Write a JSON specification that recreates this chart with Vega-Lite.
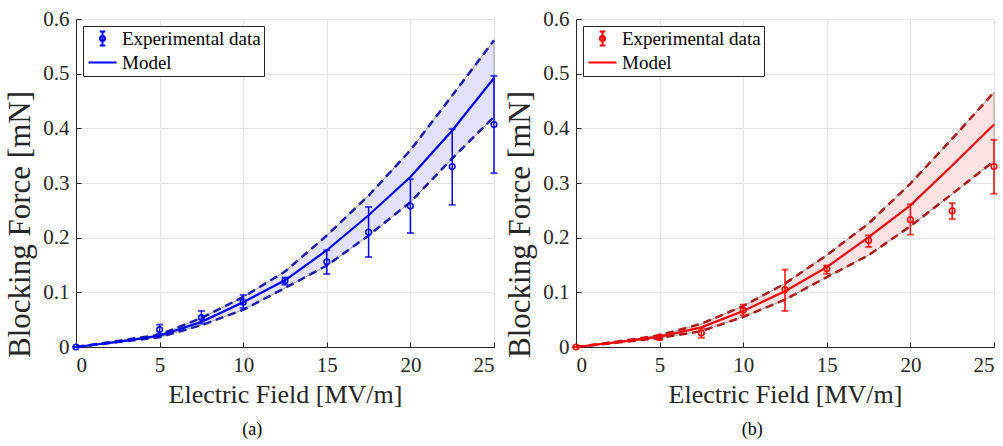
{
  "$schema": "https://vega.github.io/schema/vega-lite/v6.json",
  "background": "white",
  "padding": {"left": 4, "top": 8, "right": 4, "bottom": 4},
  "spacing": 4,
  "config": {
    "view": {"stroke": null},
    "font": "Liberation Serif",
    "axis": {
      "labelFont": "Liberation Serif",
      "titleFont": "Liberation Serif",
      "labelFontSize": 21,
      "labelColor": "#262626",
      "titleColor": "#262626",
      "titleFontWeight": "normal",
      "domainColor": "#262626",
      "tickColor": "#262626",
      "gridColor": "#e4e4e4",
      "grid": true,
      "tickSize": -5,
      "labelPadding": 12
    },
    "axisX": {"titleFontSize": 26, "titlePadding": 6},
    "axisY": {"titleFontSize": 31, "titlePadding": 6, "titleY": 205, "format": ".1~f"},
    "legend": {
      "orient": "top-left",
      "offset": 7,
      "padding": 3,
      "strokeColor": "#262626",
      "fillColor": "white",
      "labelFont": "Liberation Serif",
      "labelFontSize": 19,
      "labelColor": "#000000",
      "symbolSize": 196,
      "symbolStrokeWidth": 2,
      "symbolOffset": 7,
      "labelOffset": 10,
      "rowPadding": 3,
      "symbolOpacity": 1
    },
    "title": {"font": "Liberation Serif", "fontSize": 18, "fontWeight": "normal", "color": "#000000"}
  },
  "datasets": {
    "modelA": [
      {"E": 0, "mean": 0, "lower": 0, "upper": 0},
      {"E": 2.5, "mean": 0.0095, "lower": 0.009, "upper": 0.011},
      {"E": 5, "mean": 0.0205, "lower": 0.018, "upper": 0.0226},
      {"E": 7.5, "mean": 0.046, "lower": 0.040, "upper": 0.053},
      {"E": 10, "mean": 0.082, "lower": 0.068, "upper": 0.0915},
      {"E": 12.5, "mean": 0.122, "lower": 0.108, "upper": 0.138},
      {"E": 15, "mean": 0.177, "lower": 0.149, "upper": 0.204},
      {"E": 17.5, "mean": 0.241, "lower": 0.204, "upper": 0.277},
      {"E": 20, "mean": 0.311, "lower": 0.265, "upper": 0.36},
      {"E": 22.5, "mean": 0.396, "lower": 0.345, "upper": 0.46},
      {"E": 25, "mean": 0.492, "lower": 0.421, "upper": 0.561}
    ],
    "expA": [
      {"E": 0, "F": 0, "lo": 0, "hi": 0},
      {"E": 5, "F": 0.032, "lo": 0.024, "hi": 0.041},
      {"E": 7.5, "F": 0.054, "lo": 0.043, "hi": 0.066},
      {"E": 10, "F": 0.082, "lo": 0.071, "hi": 0.095},
      {"E": 12.5, "F": 0.121, "lo": 0.114, "hi": 0.127},
      {"E": 15, "F": 0.156, "lo": 0.1335, "hi": 0.177},
      {"E": 17.5, "F": 0.21, "lo": 0.1646, "hi": 0.256},
      {"E": 20, "F": 0.258, "lo": 0.2085, "hi": 0.307},
      {"E": 22.5, "F": 0.33, "lo": 0.26, "hi": 0.399},
      {"E": 25, "F": 0.407, "lo": 0.318, "hi": 0.496}
    ],
    "modelB": [
      {"E": 0, "mean": 0, "lower": 0, "upper": 0},
      {"E": 2.5, "mean": 0.009, "lower": 0.008, "upper": 0.010},
      {"E": 5, "mean": 0.019, "lower": 0.0165, "upper": 0.0215},
      {"E": 7.5, "mean": 0.036, "lower": 0.029, "upper": 0.0425},
      {"E": 10, "mean": 0.066, "lower": 0.055, "upper": 0.075},
      {"E": 12.5, "mean": 0.102, "lower": 0.0866, "upper": 0.116},
      {"E": 15, "mean": 0.146, "lower": 0.128, "upper": 0.168},
      {"E": 17.5, "mean": 0.201, "lower": 0.168, "upper": 0.226},
      {"E": 20, "mean": 0.259, "lower": 0.221, "upper": 0.299},
      {"E": 22.5, "mean": 0.332, "lower": 0.28, "upper": 0.381},
      {"E": 25, "mean": 0.407, "lower": 0.34, "upper": 0.466}
    ],
    "expB": [
      {"E": 0, "F": 0, "lo": 0, "hi": 0},
      {"E": 5, "F": 0.018, "lo": 0.013, "hi": 0.022},
      {"E": 7.5, "F": 0.0256, "lo": 0.017, "hi": 0.0335},
      {"E": 10, "F": 0.067, "lo": 0.058, "hi": 0.0774},
      {"E": 12.5, "F": 0.105, "lo": 0.066, "hi": 0.1415},
      {"E": 15, "F": 0.143, "lo": 0.134, "hi": 0.149},
      {"E": 17.5, "F": 0.195, "lo": 0.183, "hi": 0.204},
      {"E": 20, "F": 0.233, "lo": 0.2055, "hi": 0.261},
      {"E": 22.5, "F": 0.249, "lo": 0.234, "hi": 0.263},
      {"E": 25, "F": 0.33, "lo": 0.2805, "hi": 0.379}
    ],
    "legendRows": [
      {"s": "Experimental data"},
      {"s": "Model"}
    ]
  },
  "resolve": {"scale": {"shape": "independent"}, "legend": {"shape": "independent"}},
  "hconcat": [
    {
      "width": 418,
      "height": 328,
      "title": {"text": "(a)", "orient": "bottom", "frame": "bounds", "anchor": "middle", "offset": 14},
      "encoding": {
        "x": {"field": "E", "type": "quantitative", "title": "Electric Field [MV/m]", "scale": {"domain": [0, 25]}, "axis": {"values": [0, 5, 10, 15, 20, 25]}}
      },
      "layer": [
        {
          "data": {"name": "modelA"},
          "mark": {"type": "area", "fill": "#e2e2fc", "stroke": "#8c8c8c", "strokeWidth": 0.8},
          "encoding": {
            "y": {"field": "lower", "type": "quantitative", "title": "Blocking Force [mN]", "scale": {"domain": [0, 0.6]}, "axis": {"values": [0, 0.1, 0.2, 0.3, 0.4, 0.5, 0.6]}},
            "y2": {"field": "upper"}
          }
        },
        {
          "data": {"name": "modelA"},
          "mark": {"type": "line", "color": "#1c1ca8", "strokeWidth": 2.5, "strokeDash": [8, 5]},
          "encoding": {"y": {"field": "upper", "type": "quantitative", "title": "Blocking Force [mN]"}}
        },
        {
          "data": {"name": "modelA"},
          "mark": {"type": "line", "color": "#1c1ca8", "strokeWidth": 2.5, "strokeDash": [8, 5]},
          "encoding": {"y": {"field": "lower", "type": "quantitative", "title": "Blocking Force [mN]"}}
        },
        {
          "data": {"name": "modelA"},
          "mark": {"type": "line", "color": "#0000ff", "strokeWidth": 2.2},
          "encoding": {"y": {"field": "mean", "type": "quantitative", "title": "Blocking Force [mN]"}}
        },
        {
          "data": {"name": "expA"},
          "mark": {"type": "rule", "color": "#0000ff", "strokeWidth": 1.5},
          "encoding": {"y": {"field": "lo", "type": "quantitative", "title": "Blocking Force [mN]"}, "y2": {"field": "hi"}}
        },
        {
          "data": {"name": "expA"},
          "mark": {"type": "tick", "orient": "horizontal", "color": "#0000ff", "size": 7, "thickness": 2},
          "encoding": {"y": {"field": "lo", "type": "quantitative", "title": "Blocking Force [mN]"}}
        },
        {
          "data": {"name": "expA"},
          "mark": {"type": "tick", "orient": "horizontal", "color": "#0000ff", "size": 7, "thickness": 2},
          "encoding": {"y": {"field": "hi", "type": "quantitative", "title": "Blocking Force [mN]"}}
        },
        {
          "data": {"name": "expA"},
          "mark": {"type": "point", "shape": "circle", "filled": false, "color": "#0000ff", "size": 32, "strokeWidth": 1.5, "opacity": 1},
          "encoding": {"y": {"field": "F", "type": "quantitative", "title": "Blocking Force [mN]"}}
        },
        {
          "data": {"name": "legendRows"},
          "mark": {"type": "point", "filled": false, "color": "#0000ff", "opacity": 0},
          "encoding": {
            "x": {"value": 0},
            "y": {"value": 0},
            "shape": {
              "field": "s",
              "type": "nominal",
              "scale": {"domain": ["Experimental data", "Model"], "range": ["M0,-1V1M-0.4,-1H0.4M-0.4,1H0.4M0.36,0A0.36,0.36,0,1,1,-0.36,0A0.36,0.36,0,1,1,0.36,0", "M-2,0H2"]},
              "legend": {"title": null, "symbolStrokeColor": "#0000ff", "encode": {"symbols": {"update": {"opacity": {"value": 1}, "stroke": {"value": "#0000ff"}, "fill": {"value": "transparent"}}}}}
            }
          }
        }
      ]
    },
    {
      "width": 418,
      "height": 328,
      "title": {"text": "(b)", "orient": "bottom", "frame": "bounds", "anchor": "middle", "offset": 14},
      "encoding": {
        "x": {"field": "E", "type": "quantitative", "title": "Electric Field [MV/m]", "scale": {"domain": [0, 25]}, "axis": {"values": [0, 5, 10, 15, 20, 25]}}
      },
      "layer": [
        {
          "data": {"name": "modelB"},
          "mark": {"type": "area", "fill": "#fde2e2", "stroke": "#8c8c8c", "strokeWidth": 0.8},
          "encoding": {
            "y": {"field": "lower", "type": "quantitative", "title": "Blocking Force [mN]", "scale": {"domain": [0, 0.6]}, "axis": {"values": [0, 0.1, 0.2, 0.3, 0.4, 0.5, 0.6]}},
            "y2": {"field": "upper"}
          }
        },
        {
          "data": {"name": "modelB"},
          "mark": {"type": "line", "color": "#a81c1c", "strokeWidth": 2.5, "strokeDash": [8, 5]},
          "encoding": {"y": {"field": "upper", "type": "quantitative", "title": "Blocking Force [mN]"}}
        },
        {
          "data": {"name": "modelB"},
          "mark": {"type": "line", "color": "#a81c1c", "strokeWidth": 2.5, "strokeDash": [8, 5]},
          "encoding": {"y": {"field": "lower", "type": "quantitative", "title": "Blocking Force [mN]"}}
        },
        {
          "data": {"name": "modelB"},
          "mark": {"type": "line", "color": "#ff0000", "strokeWidth": 2.2},
          "encoding": {"y": {"field": "mean", "type": "quantitative", "title": "Blocking Force [mN]"}}
        },
        {
          "data": {"name": "expB"},
          "mark": {"type": "rule", "color": "#ff0000", "strokeWidth": 1.5},
          "encoding": {"y": {"field": "lo", "type": "quantitative", "title": "Blocking Force [mN]"}, "y2": {"field": "hi"}}
        },
        {
          "data": {"name": "expB"},
          "mark": {"type": "tick", "orient": "horizontal", "color": "#ff0000", "size": 7, "thickness": 2},
          "encoding": {"y": {"field": "lo", "type": "quantitative", "title": "Blocking Force [mN]"}}
        },
        {
          "data": {"name": "expB"},
          "mark": {"type": "tick", "orient": "horizontal", "color": "#ff0000", "size": 7, "thickness": 2},
          "encoding": {"y": {"field": "hi", "type": "quantitative", "title": "Blocking Force [mN]"}}
        },
        {
          "data": {"name": "expB"},
          "mark": {"type": "point", "shape": "circle", "filled": false, "color": "#ff0000", "size": 32, "strokeWidth": 1.5, "opacity": 1},
          "encoding": {"y": {"field": "F", "type": "quantitative", "title": "Blocking Force [mN]"}}
        },
        {
          "data": {"name": "legendRows"},
          "mark": {"type": "point", "filled": false, "color": "#ff0000", "opacity": 0},
          "encoding": {
            "x": {"value": 0},
            "y": {"value": 0},
            "shape": {
              "field": "s",
              "type": "nominal",
              "scale": {"domain": ["Experimental data", "Model"], "range": ["M0,-1V1M-0.4,-1H0.4M-0.4,1H0.4M0.36,0A0.36,0.36,0,1,1,-0.36,0A0.36,0.36,0,1,1,0.36,0", "M-2,0H2"]},
              "legend": {"title": null, "symbolStrokeColor": "#ff0000", "encode": {"symbols": {"update": {"opacity": {"value": 1}, "stroke": {"value": "#ff0000"}, "fill": {"value": "transparent"}}}}}
            }
          }
        }
      ]
    }
  ]
}
